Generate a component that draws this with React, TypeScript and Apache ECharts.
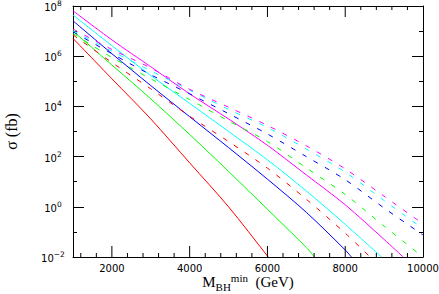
import React, { useEffect, useRef } from 'react';
import * as echarts from 'echarts';

// Each pair: [M_BH^min in GeV, log10(sigma / fb)]
const redSolid = [[1000, 6.71], [2000, 5.1], [3000, 3.5], [4000, 1.75], [5000, 0.0], [6000, -1.96], [6020, -2]];
const greenSolid = [[1000, 7.0], [2000, 5.65], [3000, 4.3], [4000, 2.88], [5000, 1.41], [6000, -0.1], [7000, -1.62], [7210, -2]];
const blueSolid = [[1000, 7.41], [2000, 6.1], [3000, 4.83], [4000, 3.59], [5000, 2.36], [6000, 1.1], [7000, -0.22], [8000, -1.72], [8160, -2]];
const cyanSolid = [[1000, 7.64], [2000, 6.42], [3000, 5.23], [4000, 4.12], [5000, 3.0], [6000, 1.87], [7000, 0.63], [8000, -0.7], [8935, -2]];
const magentaSolid = [[1000, 7.81], [2000, 6.65], [3000, 5.58], [4000, 4.5], [5000, 3.5], [6000, 2.45], [7000, 1.27], [8000, 0.08], [9000, -1.3], [9490, -2]];
const redDashed = [[1000, 6.85], [2000, 5.75], [3000, 4.7], [4000, 3.61], [5000, 2.6], [6000, 1.54], [7000, 0.3], [8000, -1.05], [8640, -2]];
const greenDashed = [[1000, 6.9], [2000, 5.95], [3000, 5.1], [4000, 4.27], [5000, 3.42], [6000, 2.6], [7000, 1.55], [8000, 0.49], [9000, -0.77], [10000, -2]];
const blueDashed = [[1000, 6.97], [2000, 6.1], [3000, 5.26], [4000, 4.5], [5000, 3.71], [6000, 2.9], [7000, 2.0], [8000, 1.08], [9000, -0.05], [10000, -1.12]];
const cyanDashed = [[1000, 7.02], [2000, 6.2], [3000, 5.42], [4000, 4.65], [5000, 3.88], [6000, 3.16], [7000, 2.3], [8000, 1.38], [9000, 0.25], [10000, -0.87]];
const magentaDashed = [[1000, 7.08], [2000, 6.27], [3000, 5.53], [4000, 4.68], [5000, 3.97], [6000, 3.24], [7000, 2.43], [8000, 1.51], [9000, 0.42], [10000, -0.68]];

// Axis ranges / ticks
const X_RANGE = [1000, 10000];
const X_STEP = 2000;
const xMajorTicks = [2000, 4000, 6000, 8000];
const xMinorTicks = [1200, 1600, 2400, 2800, 3200, 3600, 4400, 4800, 5200, 5600, 6400, 6800, 7200, 7600, 8400, 8800, 9200, 9600];
const Y_RANGE = [-2, 8]; // exponents of 10 (fb)
const Y_STEP = 2;

const GRID = { left: 73, top: 6, right: 16, bottom: 37 };
const CHART_H = 294;
const MAJOR_LEN = 11; // px
const MINOR_LEN = 4; // px

const AXIS = '#000';
const TICK_FONT = 'DejaVu Sans';
const TITLE_FONT = 'Liberation Serif';

const seriesDefs = [
  { name: 'red', data: redSolid, color: '#ff0000', dashed: false },
  { name: 'green', data: greenSolid, color: '#00ff00', dashed: false },
  { name: 'blue', data: blueSolid, color: '#0000ff', dashed: false },
  { name: 'cyan', data: cyanSolid, color: '#00ffff', dashed: false },
  { name: 'magenta', data: magentaSolid, color: '#ff00ff', dashed: false },
  { name: 'red dashed', data: redDashed, color: '#ff0000', dashed: true },
  { name: 'green dashed', data: greenDashed, color: '#00ff00', dashed: true },
  { name: 'blue dashed', data: blueDashed, color: '#0000ff', dashed: true },
  { name: 'cyan dashed', data: cyanDashed, color: '#00ffff', dashed: true },
  { name: 'magenta dashed', data: magentaDashed, color: '#ff00ff', dashed: true },
];

const tickStyle = { color: AXIS, width: 1 };
const axisLineStyle = { show: true, onZero: false, lineStyle: { color: AXIS, width: 1 } };

// pixel length -> y-axis units (exponent) for drawing x ticks as short line segments
const yUnitsPerPx = (Y_RANGE[1] - Y_RANGE[0]) / (CHART_H - GRID.top - GRID.bottom);
const tickData = (ticks: number[], lenPx: number) => {
  const d = lenPx * yUnitsPerPx;
  const out: any[] = [];
  ticks.forEach((v) => {
    out.push([v, Y_RANGE[0]], [v, Y_RANGE[0] + d], [v, '-']);
    out.push([v, Y_RANGE[1]], [v, Y_RANGE[1] - d], [v, '-']);
  });
  return out;
};
const tickSeries = (ticks: number[], lenPx: number) => ({
  type: 'line',
  xAxisIndex: 0,
  yAxisIndex: 0,
  data: tickData(ticks, lenPx),
  showSymbol: false,
  symbol: 'none',
  connectNulls: false,
  clip: false,
  silent: true,
  z: 5,
  color: AXIS,
  lineStyle: { color: AXIS, width: 1, type: 'solid' },
  emphasis: { disabled: true },
});

const baseX: any = {
  type: 'value',
  min: X_RANGE[0],
  max: X_RANGE[1],
  minInterval: X_STEP,
  maxInterval: X_STEP,
  splitLine: { show: false },
  minorSplitLine: { show: false },
  axisLine: axisLineStyle,
  axisTick: { show: false },
  minorTick: { show: false },
};

const baseY: any = {
  type: 'value',
  min: Y_RANGE[0],
  max: Y_RANGE[1],
  interval: Y_STEP,
  splitLine: { show: false },
  minorSplitLine: { show: false },
  axisLine: axisLineStyle,
  axisTick: { show: true, inside: true, length: MAJOR_LEN, lineStyle: tickStyle },
  minorTick: { show: true, splitNumber: 2, length: MINOR_LEN, lineStyle: tickStyle },
};

const option: any = {
  animation: false,
  backgroundColor: '#fff',
  grid: { ...GRID, containLabel: false, outerBoundsMode: 'none' },
  xAxis: [
    {
      ...baseX,
      position: 'bottom',
      axisLabel: {
        show: true,
        margin: 6,
        color: '#000',
        fontFamily: TICK_FONT,
        fontSize: 10,
        showMinLabel: false,
        showMaxLabel: true,
        hideOverlap: false,
        formatter: (v: number) => (v % X_STEP === 0 ? String(v) : ''),
      },
      name: '{m|M}{sub|BH}{sup|min}{m|  (GeV)}',
      nameLocation: 'middle',
      nameGap: 15,
      nameMoveOverlap: false,
      nameTextStyle: {
        color: '#000',
        rich: {
          m: { fontFamily: TITLE_FONT, fontSize: 15, lineHeight: 20, color: '#000' },
          sub: { fontFamily: TITLE_FONT, fontSize: 11, lineHeight: 8, verticalAlign: 'bottom', color: '#000' },
          sup: { fontFamily: TITLE_FONT, fontSize: 11, lineHeight: 11, verticalAlign: 'top', color: '#000' },
        },
      },
    },
    { ...baseX, position: 'top', axisLabel: { show: false } },
  ],
  yAxis: [
    {
      ...baseY,
      position: 'left',
      axisLabel: {
        show: true,
        margin: 20,
        align: 'center',
        padding: [3, 0, 0, 0],
        formatter: (v: number) => `{b|10}{e|${v < 0 ? '\u2212' + Math.abs(v) : v}}`,
        rich: {
          b: { fontFamily: TICK_FONT, fontSize: 10, lineHeight: 16, color: '#000' },
          e: { fontFamily: TICK_FONT, fontSize: 7.5, lineHeight: 7, verticalAlign: 'top', color: '#000' },
        },
      },
      name: '\u03c3 (fb)',
      nameLocation: 'middle',
      nameGap: 54,
      nameMoveOverlap: false,
      nameTextStyle: { fontFamily: TITLE_FONT, fontSize: 16, color: '#000' },
    },
    { ...baseY, position: 'right', axisLabel: { show: false } },
  ],
  series: [
    ...seriesDefs.map((s) => ({
      name: s.name,
      type: 'line',
      xAxisIndex: 0,
      yAxisIndex: 0,
      data: s.data,
      showSymbol: false,
      symbol: 'none',
      smooth: 0.3,
      clip: true,
      silent: true,
      color: s.color,
      lineStyle: { color: s.color, width: 1, type: s.dashed ? [5, 8] : 'solid' },
      emphasis: { disabled: true },
    })),
    tickSeries(xMajorTicks, MAJOR_LEN),
    tickSeries(xMinorTicks, MINOR_LEN),
  ],
};

export default function App() {
  const ref = useRef<HTMLDivElement>(null);
  useEffect(() => {
    if (!ref.current) return;
    const chart = echarts.init(ref.current, undefined, { renderer: 'svg' });
    chart.setOption(option);
    return () => chart.dispose();
  }, []);
  return (
    <div
      ref={ref}
      style={{ position: 'fixed', left: 0, top: 0, width: 439, height: CHART_H, background: '#fff' }}
    />
  );
}
